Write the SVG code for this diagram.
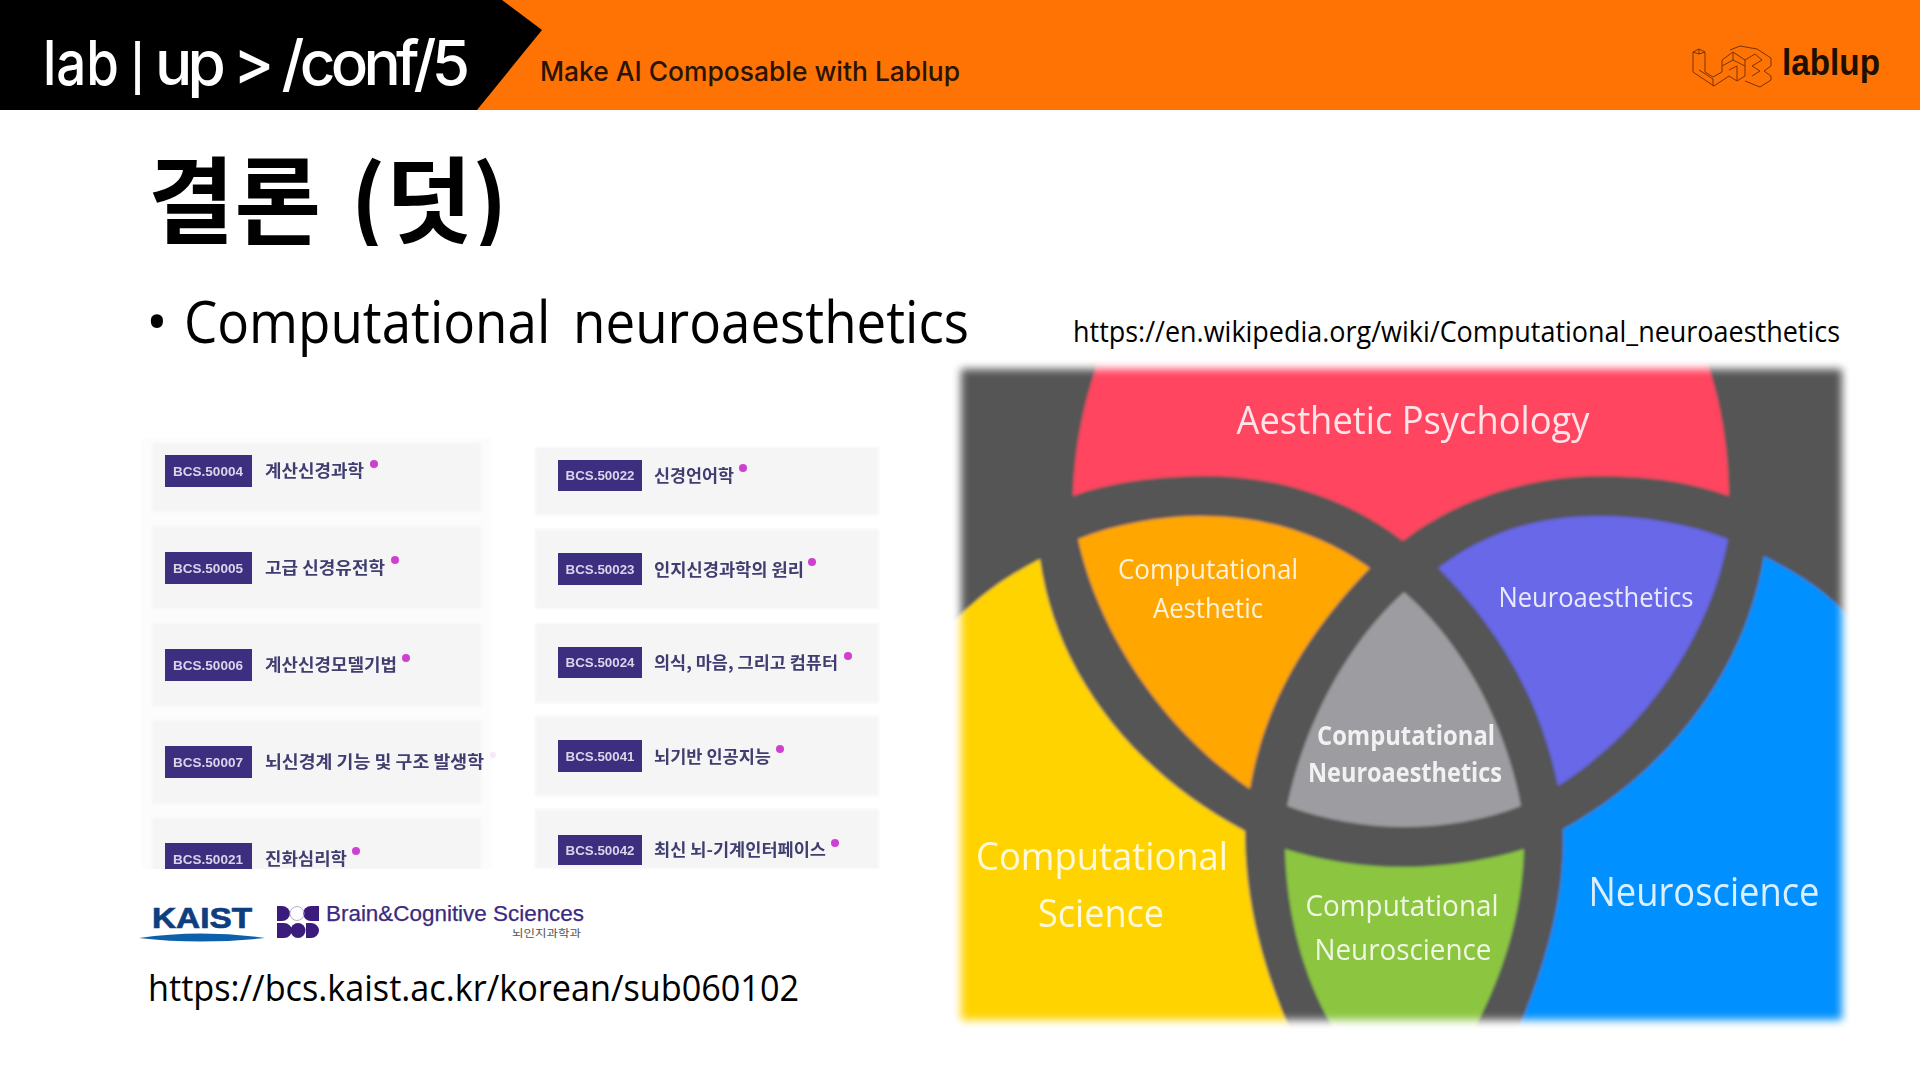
<svg xmlns="http://www.w3.org/2000/svg" width="1920" height="1080" viewBox="0 0 1920 1080">
<defs>
<style>
.sans{font-family:"Liberation Sans",Arial,sans-serif}
.inter{font-family:Inter,"Liberation Sans",sans-serif}
.open{font-family:"Open Sans","Noto Sans",sans-serif}
.kr{font-family:"Noto Sans CJK KR",sans-serif}
.card{fill:#f5f5f6}
.badge{fill:#3d2f80}
.bt{font-family:"Liberation Sans",sans-serif;font-weight:700;font-size:13px;fill:#d9d6ea;text-anchor:middle}
.lb{font-family:"Noto Sans CJK KR",sans-serif;font-weight:700;font-size:17px;fill:#3f3d70}
.dot{fill:#cf3fd0}
.v{font-family:"Open Sans",sans-serif;fill:#fff;fill-opacity:.86;text-anchor:middle}
.logo{fill:none;stroke:#7a3400;stroke-width:1}
</style>
<filter id="b1" x="-5%" y="-5%" width="110%" height="110%"><feGaussianBlur stdDeviation="1.5"/></filter>
<filter id="b05" x="-5%" y="-5%" width="110%" height="110%"><feGaussianBlur stdDeviation="0.7"/></filter>
<filter id="b4" x="-5%" y="-5%" width="110%" height="110%"><feGaussianBlur stdDeviation="4"/></filter>
<mask id="vm" maskUnits="userSpaceOnUse" x="940" y="350" width="920" height="690"><rect x="961" y="369" width="881" height="651" fill="#fff" filter="url(#b4)"/></mask>
<clipPath id="tc"><rect x="140" y="140" width="400" height="106"/></clipPath>
<clipPath id="pc"><rect x="140" y="436" width="760" height="433"/></clipPath>
</defs>
<rect width="1920" height="1080" fill="#fff"/>
<g id="header">
<rect width="1920" height="110" fill="#ff7204"/>
<polygon points="0,0 502,0 542,30 477,110 0,110" fill="#000"/>
<text class="inter" x="43" y="85" font-size="62" font-weight="500" fill="#fff" textLength="76" lengthAdjust="spacingAndGlyphs">lab</text>
<text class="sans" x="130" y="83" font-size="58" fill="#fff">|</text>
<text class="inter" x="155" y="85" font-size="62" font-weight="500" fill="#fff" textLength="315" lengthAdjust="spacing">up &gt; /conf/5</text>
<text class="inter" x="540" y="81" font-size="27" font-weight="500" fill="#2a1405" textLength="420" lengthAdjust="spacingAndGlyphs">Make AI Composable with Lablup</text>
<g id="lablup-logo" class="logo">
<path d="M1693,52 L1699,49 L1705,52 L1705,72 L1713,77 L1722,72 L1722,60 L1733,52 L1745,60 L1745,76 L1737,81 L1729,76 L1714,86 L1693,72Z"/>
<path d="M1699,49 L1699,54 L1705,52 M1699,54 L1693,52 M1699,70 L1713,79 L1713,86"/>
<path d="M1733,52 L1733,60 L1722,66 M1733,60 L1745,66 M1729,70 L1737,66 L1737,81"/>
<path d="M1730,50 L1740,46 L1757,49 L1771,58 L1771,66 L1764,71 L1771,76 L1771,80 L1760,87 L1745,81 M1745,60 L1755,54 L1762,60 L1752,66 L1760,71 L1752,76"/>
</g>
<text class="sans" x="1782" y="75" font-size="37" font-weight="700" fill="#1d0f02" textLength="98" lengthAdjust="spacingAndGlyphs">lablup</text>
</g>
<g id="title" clip-path="url(#tc)"><text class="kr" x="148" y="236" font-size="94" font-weight="700" fill="#000" word-spacing="8">결론 (덧)</text></g>
<text id="bullet" class="open" x="146" y="343" font-size="58" fill="#000">•</text>
<text id="heading" class="open" x="184" y="343" font-size="58" fill="#000" word-spacing="10" textLength="785" lengthAdjust="spacingAndGlyphs">Computational neuroaesthetics</text>
<text id="url-wiki" class="open" x="1073" y="342" font-size="29" fill="#000" textLength="767" lengthAdjust="spacingAndGlyphs">https://en.wikipedia.org/wiki/Computational_neuroaesthetics</text>
<g id="courses" filter="url(#b05)"><g clip-path="url(#pc)">
<rect x="142" y="438" width="350" height="440" fill="#fcfcfc"/>
<g filter="url(#b1)">
<rect class="card" x="152" y="443" width="329" height="69"/><rect class="card" x="152" y="526" width="329" height="83"/><rect class="card" x="152" y="623" width="329" height="84"/><rect class="card" x="152" y="720" width="329" height="84"/><rect class="card" x="152" y="818" width="329" height="60"/>
<rect class="card" x="535" y="447" width="344" height="68"/><rect class="card" x="535" y="529" width="344" height="80"/><rect class="card" x="535" y="623" width="344" height="80"/><rect class="card" x="535" y="716" width="344" height="80"/><rect class="card" x="535" y="809" width="344" height="60"/>
</g>
<rect class="badge" x="165" y="455" width="87" height="32"/><rect class="badge" x="165" y="552" width="87" height="32"/><rect class="badge" x="165" y="649" width="87" height="32"/><rect class="badge" x="165" y="746" width="87" height="32"/><rect class="badge" x="165" y="843" width="87" height="32"/>
<rect class="badge" x="558" y="460" width="84" height="31"/><rect class="badge" x="558" y="553" width="84" height="32"/><rect class="badge" x="558" y="647" width="84" height="31"/><rect class="badge" x="558" y="740" width="84" height="32"/><rect class="badge" x="558" y="835" width="84" height="30"/>
<text class="bt" x="208" y="475.5" textLength="70" lengthAdjust="spacingAndGlyphs">BCS.50004</text><text class="bt" x="208" y="572.5" textLength="70" lengthAdjust="spacingAndGlyphs">BCS.50005</text><text class="bt" x="208" y="669.5" textLength="70" lengthAdjust="spacingAndGlyphs">BCS.50006</text><text class="bt" x="208" y="766.5" textLength="70" lengthAdjust="spacingAndGlyphs">BCS.50007</text><text class="bt" x="208" y="864" textLength="70" lengthAdjust="spacingAndGlyphs">BCS.50021</text>
<text class="bt" x="600" y="480" textLength="69" lengthAdjust="spacingAndGlyphs">BCS.50022</text><text class="bt" x="600" y="574" textLength="69" lengthAdjust="spacingAndGlyphs">BCS.50023</text><text class="bt" x="600" y="667" textLength="69" lengthAdjust="spacingAndGlyphs">BCS.50024</text><text class="bt" x="600" y="761" textLength="69" lengthAdjust="spacingAndGlyphs">BCS.50041</text><text class="bt" x="600" y="855" textLength="69" lengthAdjust="spacingAndGlyphs">BCS.50042</text>
<text class="lb" x="265" y="477" textLength="99" lengthAdjust="spacingAndGlyphs">계산신경과학</text>
<text class="lb" x="265" y="574" textLength="120" lengthAdjust="spacingAndGlyphs">고급 신경유전학</text>
<text class="lb" x="265" y="671" textLength="132" lengthAdjust="spacingAndGlyphs">계산신경모델기법</text>
<text class="lb" x="265" y="768" textLength="219" lengthAdjust="spacingAndGlyphs">뇌신경계 기능 및 구조 발생학</text>
<text class="lb" x="265" y="865" textLength="82" lengthAdjust="spacingAndGlyphs">진화심리학</text>
<text class="lb" x="654" y="482" textLength="80" lengthAdjust="spacingAndGlyphs">신경언어학</text>
<text class="lb" x="654" y="576" textLength="150" lengthAdjust="spacingAndGlyphs">인지신경과학의 원리</text>
<text class="lb" x="654" y="669" textLength="184" lengthAdjust="spacingAndGlyphs">의식, 마음, 그리고 컴퓨터</text>
<text class="lb" x="654" y="763" textLength="117" lengthAdjust="spacingAndGlyphs">뇌기반 인공지능</text>
<text class="lb" x="654" y="856" textLength="172" lengthAdjust="spacingAndGlyphs">최신 뇌-기계인터페이스</text>
<circle class="dot" cx="374" cy="464" r="4"/><circle class="dot" cx="395" cy="560" r="4"/><circle class="dot" cx="406" cy="658" r="4"/><circle class="dot" cx="493" cy="755" r="3" opacity=".12"/><circle class="dot" cx="356" cy="851" r="4"/>
<circle class="dot" cx="743" cy="468" r="4"/><circle class="dot" cx="812" cy="562" r="4"/><circle class="dot" cx="848" cy="656" r="4"/><circle class="dot" cx="780" cy="749" r="4"/><circle class="dot" cx="835" cy="843" r="4"/>
</g></g>
<g id="kaist-logo">
<text class="sans" x="152" y="928" font-size="29" font-weight="700" fill="#0d3f80" stroke="#0d3f80" stroke-width=".7" textLength="100" lengthAdjust="spacingAndGlyphs">KAIST</text>
<path d="M139,938 Q200,929 265,938 Q200,945 139,938Z" fill="#0f60ab"/>
</g>
<g id="bcs-logo">
<g fill="#3b1c7c">
<path d="M277,906 H282 A8,7.5 0 0 1 282,921 H277Z"/><path d="M319,906 H311 A8,7.5 0 0 0 311,921 H319Z"/>
<path d="M277,923 H284 A8,7.5 0 0 1 284,938 H277Z"/><circle cx="298" cy="930.5" r="7.5"/><path d="M306,923 H311 A8,7.5 0 0 1 311,938 H306Z"/>
</g>
<circle cx="297" cy="913.5" r="7" fill="none" stroke="#b5b0c8" stroke-width="1"/>
<text class="sans" x="326" y="921" font-size="22" fill="#3b2a7d" stroke="#3b2a7d" stroke-width=".25" textLength="258" lengthAdjust="spacingAndGlyphs">Brain&amp;Cognitive Sciences</text>
<text class="kr" x="512" y="937" font-size="10" fill="#555" textLength="69" lengthAdjust="spacingAndGlyphs">뇌인지과학과</text>
</g>
<text id="url-kaist" class="open" x="148" y="1001" font-size="37" fill="#000" textLength="651" lengthAdjust="spacingAndGlyphs">https://bcs.kaist.ac.kr/korean/sub060102</text>
<g id="venn" mask="url(#vm)">
<g filter="url(#b1)">
<rect x="950" y="360" width="900" height="670" fill="#555"/>
<path id="v-red" fill="#ff4560" d="M1073,496 C1075,440 1085,400 1100,355 L1705,355 C1720,400 1728,440 1729,496 C1690,482 1650,476 1598,476 C1530,476 1455,500 1403,541 C1350,500 1280,476 1207,476 C1160,476 1110,482 1073,496Z"/>
<path id="v-orange" fill="#ffa600" d="M1078,539 C1115,524 1160,516 1201,516 C1265,516 1320,533 1370,568 C1310,630 1265,700 1250,789 C1170,735 1100,640 1078,539Z"/>
<path id="v-purple" fill="#6868e8" d="M1728,539 C1690,524 1645,516 1598,516 C1535,516 1485,533 1438,568 C1500,630 1540,700 1558,786 C1640,735 1710,640 1728,539Z"/>
<path id="v-gray" fill="#9d9da1" d="M1404,592 C1350,640 1305,720 1287,806 C1325,820 1365,827 1404,827 C1445,827 1485,820 1521,806 C1505,720 1460,640 1404,592Z"/>
<path id="v-green" fill="#8cc63f" d="M1285,849 C1320,860 1360,867 1404,867 C1445,867 1490,860 1524,849 C1522,920 1500,980 1474,1030 L1334,1030 C1305,980 1287,920 1285,849Z"/>
<path id="v-yellow" fill="#ffd300" d="M950,625 C985,590 1010,575 1040,559 C1055,670 1130,770 1245,831 C1245,900 1262,965 1290,1030 L950,1030Z"/>
<path id="v-blue" fill="#0090ff" d="M1764,556 C1800,575 1825,590 1850,618 L1850,1030 L1518,1030 C1545,965 1565,900 1563,829 C1670,770 1745,670 1764,556Z"/>
</g></g>
<g id="venn-labels" filter="url(#b05)">
<text class="v" x="1413" y="434" font-size="38" textLength="353" lengthAdjust="spacingAndGlyphs">Aesthetic Psychology</text>
<text class="v" x="1208" y="579" font-size="28" textLength="180" lengthAdjust="spacingAndGlyphs">Computational</text>
<text class="v" x="1208" y="618" font-size="28" textLength="110" lengthAdjust="spacingAndGlyphs">Aesthetic</text>
<text class="v" x="1596" y="607" font-size="28" textLength="195" lengthAdjust="spacingAndGlyphs">Neuroaesthetics</text>
<text class="v" x="1406" y="745" font-size="26" font-weight="700" textLength="178" lengthAdjust="spacingAndGlyphs">Computational</text>
<text class="v" x="1405" y="782" font-size="26" font-weight="700" textLength="194" lengthAdjust="spacingAndGlyphs">Neuroaesthetics</text>
<text class="v" x="1102" y="870" font-size="39" textLength="252" lengthAdjust="spacingAndGlyphs">Computational</text>
<text class="v" x="1101" y="927" font-size="39" textLength="126" lengthAdjust="spacingAndGlyphs">Science</text>
<text class="v" x="1402" y="916" font-size="30" textLength="193" lengthAdjust="spacingAndGlyphs">Computational</text>
<text class="v" x="1403" y="960" font-size="30" textLength="177" lengthAdjust="spacingAndGlyphs">Neuroscience</text>
<text class="v" x="1704" y="906" font-size="40" textLength="231" lengthAdjust="spacingAndGlyphs">Neuroscience</text>
</g>
</svg>
